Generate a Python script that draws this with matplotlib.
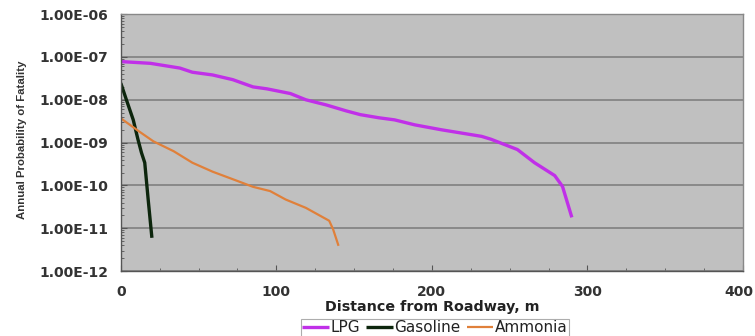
import numpy as np
import matplotlib
matplotlib.use('Agg')
import matplotlib.pyplot as plt
import matplotlib.transforms as mtransforms
from matplotlib.ticker import FixedLocator, MultipleLocator, LogLocator, FuncFormatter, NullFormatter

# distances (m) and annual probability of fatality
lpg_x = [0, 19, 38, 46, 59, 72, 85, 94, 109, 119, 132, 145, 154, 166, 176, 189, 206, 232, 238, 255, 266, 279, 284, 290]
lpg_y = [7.8e-8, 7.1e-8, 5.5e-8, 4.4e-8, 3.8e-8, 2.95e-8, 2.0e-8, 1.8e-8, 1.4e-8, 1.0e-8, 7.6e-9, 5.5e-9,
         4.5e-9, 3.8e-9, 3.4e-9, 2.6e-9, 2.0e-9, 1.4e-9, 1.2e-9, 6.9e-10, 3.4e-10, 1.7e-10, 9.5e-11, 1.8e-11]

gas_x = [0, 3.6, 8, 11, 13.3, 15.4, 17.6, 20]
gas_y = [2.45e-8, 1.0e-8, 3.4e-9, 1.2e-9, 5.8e-10, 3.4e-10, 4.7e-11, 6.0e-12]

nh3_x = [0, 12, 21, 34, 46, 59, 72, 85, 96, 106, 119, 134, 136.5, 140]
nh3_y = [3.7e-9, 1.8e-9, 1.07e-9, 6.3e-10, 3.4e-10, 2.1e-10, 1.4e-10, 9.3e-11, 7.4e-11, 4.7e-11,
         3.0e-11, 1.5e-11, 9.5e-12, 3.9e-12]

y_ticks = [1e-12, 1e-11, 1e-10, 1e-9, 1e-8, 1e-7, 1e-6]
x_ticks = [0, 100, 200, 300, 400]

fig = plt.figure(figsize=(7.55, 3.36), dpi=100)
ax = fig.add_axes([0.160, 0.193, 0.824, 0.765])
ax.set_facecolor('#c0c0c0')

ax.plot(lpg_x, lpg_y, color='#c030e8', lw=2.4, label='LPG', solid_capstyle='butt')
ax.plot(gas_x, gas_y, color='#0d260d', lw=2.4, label='Gasoline', solid_capstyle='butt')
ax.plot(nh3_x, nh3_y, color='#e0803a', lw=1.6, label='Ammonia', solid_capstyle='butt')

ax.set_yscale('log')
ax.set_ylim(1e-12, 1e-6)
ax.set_xlim(0, 400)
ax.yaxis.set_major_locator(FixedLocator(y_ticks))
ax.yaxis.set_major_formatter(FuncFormatter(lambda v, p: '%.2fE%03d' % (1.0, int(round(np.log10(v))))))
ax.yaxis.set_minor_locator(LogLocator(base=10, subs=np.arange(2, 10)))
ax.yaxis.set_minor_formatter(NullFormatter())
ax.xaxis.set_major_locator(FixedLocator(x_ticks))
ax.xaxis.set_minor_locator(MultipleLocator(25))

ax.grid(axis='y', which='major', color='#7a7a7a', lw=1.1)
ax.set_axisbelow(True)

for s in ax.spines.values():
    s.set_color('#888888')
    s.set_linewidth(1.0)
ax.spines['left'].set_color('#555555')
ax.spines['bottom'].set_color('#555555')

ax.tick_params(axis='both', which='both', direction='in', colors='#555555')
ax.tick_params(axis='both', which='major', length=4, labelcolor='#333333')
ax.tick_params(axis='both', which='minor', length=2.5)
ax.tick_params(axis='y', which='major', pad=9)
ax.tick_params(axis='x', which='major', pad=10)
for lab in ax.get_xticklabels() + ax.get_yticklabels():
    lab.set_fontweight('bold')
    lab.set_fontsize(10)
    lab.set_family('DejaVu Sans')

# nudge the "400" label so it stays inside the figure
last = ax.get_xticklabels()[-1]
last.set_transform(last.get_transform() + mtransforms.ScaledTranslation(-4 / 100, 0, fig.dpi_scale_trans))

ax.set_xlabel('Distance from Roadway, m', fontsize=10.3, fontweight='bold', color='#222222', labelpad=1)
fig.text(0.029, 0.585, 'Annual Probability of Fatality', rotation=90, ha='center', va='center',
         fontsize=8.2, fontweight='bold', family='Liberation Sans', color='#333333')

leg = fig.legend(loc='upper center', bbox_to_anchor=(0.576, 0.051), ncol=3, frameon=True,
                 fancybox=False, edgecolor='#999999', prop={'family': 'DejaVu Sans', 'size': 11},
                 handlelength=1.75, handletextpad=0.1, columnspacing=0.4, borderpad=0.1,
                 borderaxespad=0.0)
leg.get_frame().set_linewidth(0.8)
for t in leg.get_texts():
    t.set_color('#222222')

fig.savefig('out.png', dpi=100, facecolor='white')
